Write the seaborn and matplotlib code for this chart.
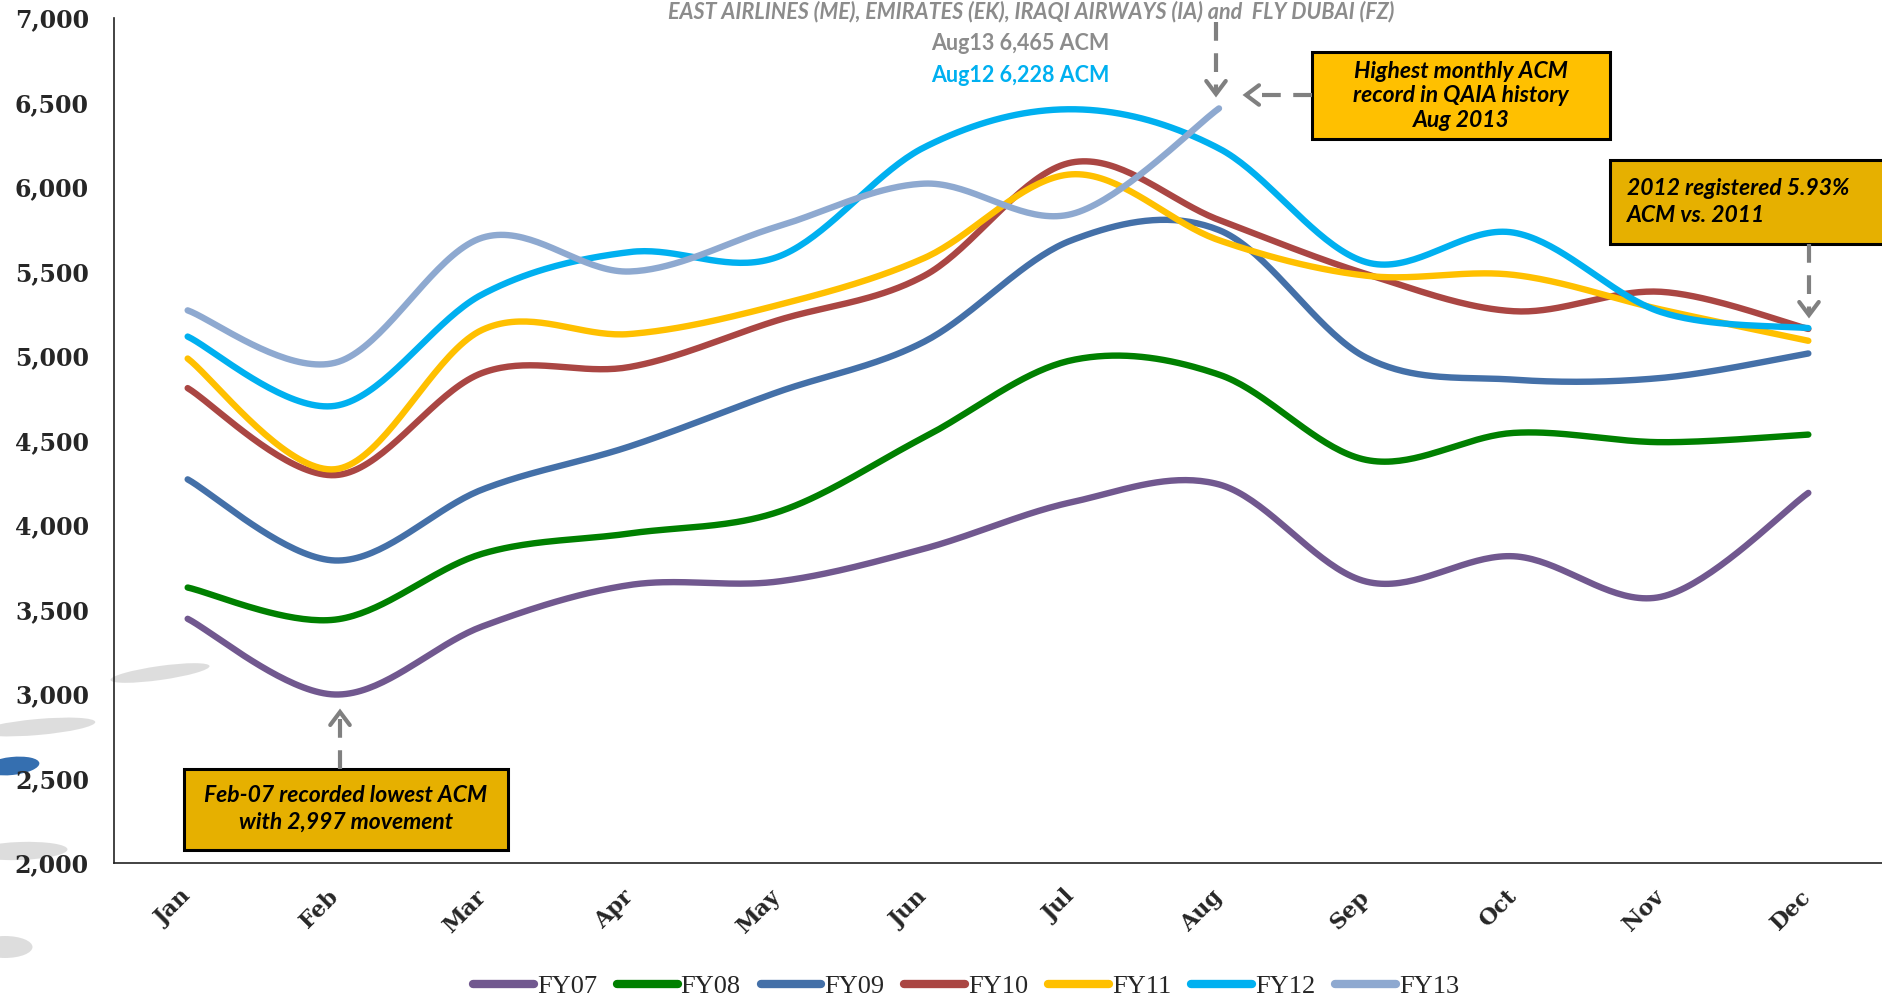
import numpy as np
import pandas as pd
import matplotlib
matplotlib.use("Agg")
import matplotlib.pyplot as plt
import seaborn as sns
from matplotlib.patches import Rectangle, Ellipse
from matplotlib.lines import Line2D

# ---------------- data ----------------
months = ["Jan", "Feb", "Mar", "Apr", "May", "Jun", "Jul", "Aug", "Sep", "Oct", "Nov", "Dec"]
fy07 = [3445, 2997, 3400, 3645, 3665, 3860, 4135, 4240, 3665, 3815, 3575, 4190]
fy08 = [3630, 3440, 3830, 3950, 4075, 4520, 4975, 4890, 4385, 4545, 4490, 4535]
fy09 = [4270, 3790, 4210, 4465, 4785, 5085, 5685, 5745, 4990, 4860, 4870, 5015]
fy10 = [4810, 4295, 4900, 4935, 5210, 5475, 6145, 5805, 5485, 5265, 5380, 5160]
fy11 = [4985, 4330, 5155, 5130, 5300, 5580, 6075, 5685, 5475, 5480, 5275, 5090]
fy12 = [5115, 4705, 5365, 5615, 5585, 6235, 6460, 6228, 5555, 5730, 5260, 5165]
fy13 = [5270, 4960, 5700, 5500, 5765, 6020, 5840, 6465]
series_names = ["FY07", "FY08", "FY09", "FY10", "FY11", "FY12", "FY13"]
series_vals = [fy07, fy08, fy09, fy10, fy11, fy12, fy13]
colors = ["#71588F", "#008000", "#4470A8", "#AA4643", "#FFC000", "#00B0F0", "#8EA9D0"]
yticks = [2000, 2500, 3000, 3500, 4000, 4500, 5000, 5500, 6000, 6500, 7000]

top_text = "EAST AIRLINES (ME), EMIRATES (EK), IRAQI AIRWAYS (IA) and  FLY DUBAI (FZ)"
aug13_text = "Aug13 6,465 ACM"
aug12_text = "Aug12 6,228 ACM"
box1_text = "Highest monthly ACM\nrecord in QAIA history\nAug 2013"
box2_text = "2012 registered 5.93%\nACM vs. 2011"
box3_text = "Feb-07 recorded lowest ACM\nwith 2,997 movement"


def smooth(vals, n=40):
    """Excel-style smoothed line (Bezier through the points) for drawing."""
    y = np.asarray(vals, float)
    x = np.arange(len(y), dtype=float)
    P = np.column_stack([x, y])
    out = []
    for i in range(len(y) - 1):
        p0 = P[max(i - 1, 0)]
        p1 = P[i]
        p2 = P[i + 1]
        p3 = P[min(i + 2, len(y) - 1)]
        b1 = p1 + (p2 - p0) / 6.0
        b2 = p2 - (p3 - p1) / 6.0
        t = np.linspace(0, 1, n, endpoint=(i == len(y) - 2))[:, None]
        seg = ((1 - t) ** 3) * p1 + 3 * ((1 - t) ** 2) * t * b1 + 3 * (1 - t) * t ** 2 * b2 + t ** 3 * p2
        out.append(seg)
    return np.vstack(out)


rows = []
for name, vals in zip(series_names, series_vals):
    pts = smooth(vals)
    for k, (xx, yy) in enumerate(pts):
        rows.append({"series": name, "order": k, "x": xx, "value": yy})
df = pd.DataFrame(rows)

# ---------------- figure ----------------
W, H = 1882, 999
sns.set_style("white")
fig = plt.figure(figsize=(W / 100, H / 100), dpi=100)
fig.patch.set_facecolor("white")
ax = fig.add_axes([114 / W, 1 - 863 / H, 1 - 114 / W, (863 - 18) / H])
ax.set_facecolor("none")

sns.lineplot(data=df, x="x", y="value", hue="series", hue_order=series_names,
             palette=dict(zip(series_names, colors)), sort=False, estimator=None,
             units="series", linewidth=4.6, legend=False, ax=ax)
for ln in ax.get_lines():
    ln.set_solid_capstyle("round")

ax.set_xlim(-0.5, 11.5)
ax.set_ylim(2000, 7000)
ax.set_xlabel("")
ax.set_ylabel("")
for s in ["top", "right"]:
    ax.spines[s].set_visible(False)
for s in ["left", "bottom"]:
    ax.spines[s].set_color("#222222")
    ax.spines[s].set_linewidth(1.2)

ax.set_yticks(yticks)
ax.set_yticklabels([f"{v:,}" for v in yticks], fontfamily="DejaVu Serif",
                   fontweight="bold", fontsize=17)
ax.tick_params(axis="y", direction="inout", length=12, width=1, color="#333333", pad=12)

ax.set_xticks(np.arange(-0.5, 12, 1.0))
ax.set_xticklabels([])
ax.tick_params(axis="x", which="major", direction="inout", length=14, width=1, color="#333333")
ax.set_xticks(np.arange(12), minor=True)
ax.set_xticklabels(months, minor=True, rotation=45, ha="right", va="center",
                   rotation_mode="anchor", fontfamily="DejaVu Serif",
                   fontweight="bold", fontsize=16)
ax.tick_params(axis="x", which="minor", length=0, pad=22)

# legend
handles = [Line2D([0], [0], color=c, lw=6, solid_capstyle="round") for c in colors]
leg = fig.legend(handles, series_names, loc="center", bbox_to_anchor=(966 / W, 13 / H),
                 ncol=7, frameon=False, handlelength=2.3, handletextpad=0.12,
                 columnspacing=0.75, prop={"family": "Liberation Serif", "size": 19})


# ---------------- annotations ----------------
def fpos(x, y):
    return x / W, 1 - y / H


def box(x0, y0, x1, y1, fc):
    fx, fy = fpos(x0, y1)
    fig.add_artist(Rectangle((fx, fy), (x1 - x0) / W, (y1 - y0) / H, transform=fig.transFigure,
                             facecolor=fc, edgecolor="black", linewidth=2.2, zorder=6))


def arrow(x0, y0, x1, y1, head=13):
    c = "#808080"
    fig.add_artist(Line2D([x0 / W, x1 / W], [1 - y0 / H, 1 - y1 / H], transform=fig.transFigure,
                          color=c, lw=3, linestyle=(0, (4.5, 3)), zorder=7))
    d = np.array([x1 - x0, y1 - y0], float)
    d /= np.hypot(*d)
    perp = np.array([-d[1], d[0]])
    a = np.array([x1, y1]) - d * head + perp * head * 0.75
    b = np.array([x1, y1]) - d * head - perp * head * 0.75
    xs = [a[0], x1, b[0]]
    ys = [a[1], y1, b[1]]
    fig.add_artist(Line2D([v / W for v in xs], [1 - v / H for v in ys], transform=fig.transFigure,
                          color=c, lw=3, solid_joinstyle="miter", zorder=7))


ann_font = "Lato"

# top text (just inside the top edge)
fig.text(*fpos(1031, 1), top_text, ha="center", va="top", color="#8C8C8C",
         fontsize=15.5, fontweight="bold", fontstyle="italic", fontfamily=ann_font)
fig.text(*fpos(1020, 43), aug13_text, ha="center", va="center", color="#8C8C8C",
         fontsize=15.5, fontweight="bold", fontfamily=ann_font)
fig.text(*fpos(1020, 75), aug12_text, ha="center", va="center", color="#00B0F0",
         fontsize=15.5, fontweight="bold", fontfamily=ann_font)

# box 1
box(1312, 52, 1610, 139, "#FFC000")
fig.text(*fpos(1461, 96), box1_text, ha="center", va="center", color="black",
         fontsize=16.5, fontweight="bold", fontstyle="italic", fontfamily=ann_font,
         linespacing=1.2, zorder=8)
arrow(1216, 22, 1216, 94)
arrow(1312, 95, 1246, 95)

# box 2
box(1610, 160, 1885, 244, "#E6B000")
fig.text(*fpos(1627, 202), box2_text, ha="left", va="center", color="black",
         fontsize=16.5, fontweight="bold", fontstyle="italic", fontfamily=ann_font,
         linespacing=1.35, zorder=8)
arrow(1809, 244, 1809, 315)

# box 3
box(184, 769, 508, 850, "#E6B000")
fig.text(*fpos(346, 809), box3_text, ha="center", va="center", color="black",
         fontsize=16.5, fontweight="bold", fontstyle="italic", fontfamily=ann_font,
         linespacing=1.3, zorder=8)
arrow(340, 769, 340, 712)

# decorative brush strokes at left
for (cx, cy, w, h, ang, col) in [(160, 673, 100, 14, 8, "#DADADA"),
                                 (38, 727, 115, 16, 5, "#DADADA"),
                                 (12, 766, 55, 18, 6, "#1F5FA8"),
                                 (20, 851, 95, 18, 2, "#DADADA"),
                                 (5, 947, 55, 22, 0, "#DADADA")]:
    fig.add_artist(Ellipse((cx, H - cy), w, h, angle=ang, transform=None,
                           facecolor=col, edgecolor="none", zorder=-1, alpha=0.9))

fig.savefig("out.png", dpi=100, facecolor="white")
